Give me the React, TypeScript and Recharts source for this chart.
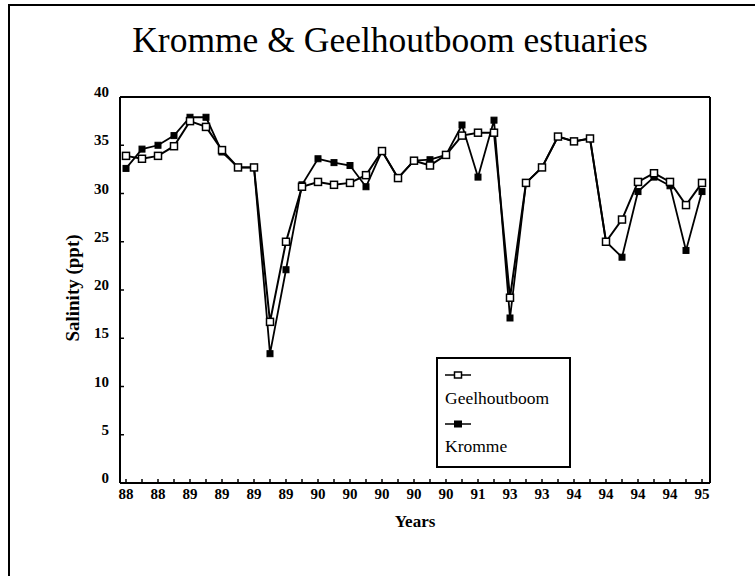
import React from 'react';
import { LineChart, Line, XAxis, YAxis, Legend } from 'recharts';

const years = [
  '88', '88', '88', '88', '89', '89', '89', '89', '89', '89', '89', '89',
  '90', '90', '90', '90', '90', '90', '90', '90', '90', '91', '91', '92',
  '93', '93', '93', '93', '94', '94', '94', '94', '94', '94', '94', '94', '95',
];

const geelhoutboom = [
  33.9, 33.6, 33.9, 34.9, 37.5, 36.9, 34.5, 32.7, 32.7, 16.7, 25.0, 30.7,
  31.2, 30.9, 31.1, 31.9, 34.4, 31.6, 33.4, 32.9, 34.0, 36.0, 36.3, 36.3,
  19.2, 31.1, 32.7, 35.9, 35.4, 35.7, 25.0, 27.3, 31.2, 32.1, 31.2, 28.8, 31.1,
];

const kromme = [
  32.6, 34.6, 35.0, 36.0, 37.9, 37.9, 34.3, 32.7, 32.7, 13.4, 22.1, 30.9,
  33.6, 33.2, 32.9, 30.7, 34.4, 31.6, 33.4, 33.5, 34.0, 37.1, 31.7, 37.6,
  17.1, 31.1, 32.7, 35.9, 35.4, 35.7, 25.0, 23.4, 30.2, 31.7, 30.8, 24.1, 30.2,
];

const yTicks = [0, 5, 10, 15, 20, 25, 30, 35, 40];

const data = years.map((year, i) => ({
  year,
  Geelhoutboom: geelhoutboom[i],
  Kromme: kromme[i],
}));

const FONT = "'Liberation Serif', 'Times New Roman', 'DejaVu Serif', serif";

const OpenSquare = (props: any) => {
  const { cx, cy, index } = props;
  if (cx == null || cy == null) return <g key={`g-${index}`} />;
  return (
    <rect key={`g-${index}`} x={cx - 3.5} y={cy - 3.5} width={7} height={7}
      fill="#fff" stroke="#000" strokeWidth={1.5} />
  );
};

const FilledSquare = (props: any) => {
  const { cx, cy, index } = props;
  if (cx == null || cy == null) return <g key={`k-${index}`} />;
  return (
    <rect key={`k-${index}`} x={cx - 3} y={cy - 3} width={6} height={6}
      fill="#000" stroke="#000" strokeWidth={1} />
  );
};

const XTick = (props: any) => {
  const { x, y, payload, index } = props;
  const idx = payload && payload.index != null ? payload.index : index;
  return (
    <g>
      <line x1={x} x2={x} y1={y} y2={y - 4} stroke="#000" strokeWidth={1.5} />
      {idx % 2 === 0 ? (
        <text x={x} y={y + 16} textAnchor="middle" fontFamily={FONT}
          fontWeight="bold" fontSize={15} fill="#000">
          {payload.value}
        </text>
      ) : null}
    </g>
  );
};

const YTick = (props: any) => {
  const { x, y, payload } = props;
  return (
    <g>
      <line x1={x} x2={x + 4} y1={y} y2={y} stroke="#000" strokeWidth={1.5} />
      <text x={x - 11} y={y} textAnchor="end" fontFamily={FONT}
        fontWeight="bold" fontSize={15} fill="#000">
        {payload.value}
      </text>
    </g>
  );
};

const LegendBox = () => (
  <svg width={136} height={112} style={{ display: 'block' }}>
    <rect x={1} y={1} width={133} height={109} fill="#fff" stroke="#000" strokeWidth={2} />
    <line x1={9} x2={35} y1={18} y2={18} stroke="#000" strokeWidth={1.5} />
    <rect x={18.5} y={15} width={7} height={6} fill="#fff" stroke="#000" strokeWidth={1.5} />
    <text x={9} y={47} fontFamily={FONT} fontSize={17.5} fill="#000">Geelhoutboom</text>
    <line x1={9} x2={35} y1={67} y2={67} stroke="#000" strokeWidth={1.5} />
    <rect x={18.5} y={64} width={7} height={6} fill="#000" stroke="#000" strokeWidth={1} />
    <text x={9} y={95} fontFamily={FONT} fontSize={17.5} fill="#000">Kromme</text>
  </svg>
);

export default function App() {
  return (
    <div style={{ position: 'absolute', left: 0, top: 0, width: 740, height: 560 }}>
      <div style={{ position: 'absolute', left: 0, top: 0 }}>
        <LineChart width={740} height={560} data={data}
          margin={{ top: 96, right: 29, bottom: 76, left: 0 }}>
          <XAxis dataKey="year" xAxisId="bottom" interval={0} tickSize={0} tickMargin={0}
            tick={<XTick />} axisLine={{ stroke: '#000', strokeWidth: 2 }}
            padding={{ left: 6, right: 8 }} height={1} />
          <XAxis dataKey="year" xAxisId="top" orientation="top" tick={false} tickLine={false}
            axisLine={{ stroke: '#000', strokeWidth: 2 }} height={1}
            padding={{ left: 6, right: 8 }} />
          <YAxis yAxisId="left" domain={[0, 40]} ticks={yTicks} interval={0} width={120}
            tickSize={0} tickMargin={0} tick={<YTick />}
            axisLine={{ stroke: '#000', strokeWidth: 2 }} />
          <YAxis yAxisId="right" orientation="right" domain={[0, 40]} tick={false} tickLine={false}
            width={1} axisLine={{ stroke: '#000', strokeWidth: 2 }} />
          <Line xAxisId="bottom" yAxisId="left" type="linear" dataKey="Kromme" stroke="#000"
            strokeWidth={1.8} dot={<FilledSquare />} isAnimationActive={false} />
          <Line xAxisId="bottom" yAxisId="left" type="linear" dataKey="Geelhoutboom" stroke="#000"
            strokeWidth={2} dot={<OpenSquare />} isAnimationActive={false} />
          <Legend content={<LegendBox />} layout="vertical" align="center" verticalAlign="middle"
            wrapperStyle={{ position: 'absolute', left: 436, top: 357, width: 136, height: 112 }} />
        </LineChart>
      </div>
      <div style={{ position: 'absolute', left: 8, top: 4, width: 747, height: 2, background: '#000' }} />
      <div style={{ position: 'absolute', left: 8, top: 4, width: 2, height: 572, background: '#000' }} />
      <svg width={740} height={560} style={{ position: 'absolute', left: 0, top: 0, pointerEvents: 'none' }}>
        <text x={390} y={52} textAnchor="middle" fontFamily={FONT} fontSize={35.5} fill="#000">
          Kromme &amp; Geelhoutboom estuaries
        </text>
        <text x={415} y={527} textAnchor="middle" fontFamily={FONT} fontWeight="bold" fontSize={17} fill="#000">
          Years
        </text>
        <text x={79} y={288} textAnchor="middle" fontFamily={FONT} fontWeight="bold" fontSize={19}
          fill="#000" transform="rotate(-90 79 288)">
          Salinity (ppt)
        </text>
      </svg>
    </div>
  );
}
